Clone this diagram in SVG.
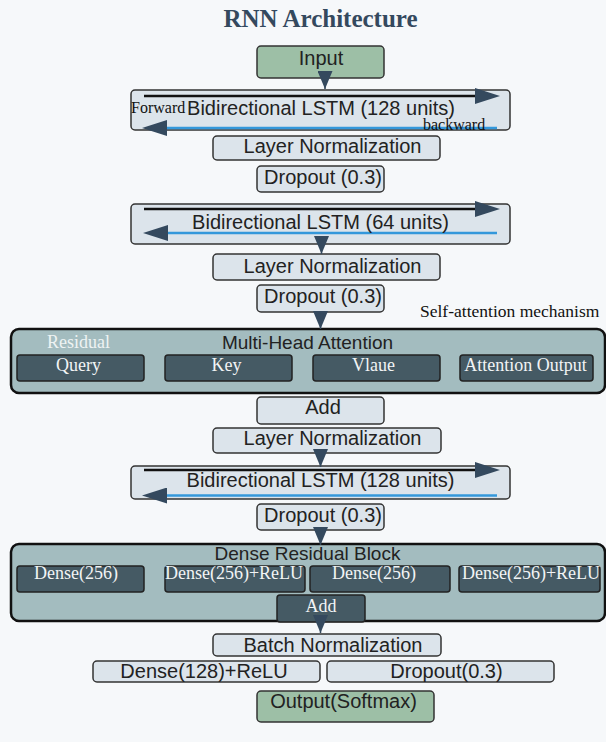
<svg xmlns="http://www.w3.org/2000/svg" width="606" height="742" viewBox="0 0 606 742">
  <style>
    .bg { fill: #f6f8fa; }
    .box { fill: #dce4eb; stroke: #333; stroke-width: 1.5; }
    .io { fill: #9dbfa6; stroke: #333; stroke-width: 1.5; }
    .block { fill: #a3bcbf; stroke: #111; stroke-width: 2.5; }
    .sub { fill: #455a64; stroke: #222; stroke-width: 1.5; }
    .lbl { font-family: "Liberation Sans", Arial, sans-serif; font-size: 20px; fill: #222; text-anchor: middle; }
    .blbl { font-family: "Liberation Sans", Arial, sans-serif; font-size: 19px; fill: #222; text-anchor: middle; }
    .slbl { font-family: "Liberation Serif", "Times New Roman", serif; font-size: 18px; fill: #f2f4f5; text-anchor: middle; }
    .note { font-family: "Liberation Serif", "Times New Roman", serif; font-size: 16px; fill: #111; }
    .fwd { stroke: #111; stroke-width: 2.5; fill: none; }
    .bwd { stroke: #3498db; stroke-width: 2.5; fill: none; }
    .flow { stroke: #34495e; stroke-width: 1.5; fill: none; }
  </style>
  <defs>
    <marker id="dir" markerUnits="userSpaceOnUse" markerWidth="25" markerHeight="16" refX="1" refY="8" orient="auto">
      <path d="M0,0 L25,8 L0,16 z" fill="#34495e"/>
    </marker>
    <marker id="arrow" markerUnits="userSpaceOnUse" markerWidth="18" markerHeight="15" refX="18" refY="7.5" orient="auto">
      <path d="M0,0 L18,7.5 L0,15 z" fill="#34495e"/>
    </marker>
  </defs>

  <rect class="bg" x="0" y="0" width="606" height="742"/>

  <text x="320.5" y="27" font-family="'Liberation Serif', 'Times New Roman', serif" font-size="25" font-weight="bold" fill="#34495e" text-anchor="middle">RNN Architecture</text>

  <g id="input">
    <rect class="io" x="257" y="46" width="127" height="32" rx="4"/>
    <text class="lbl" x="321" y="65">Input</text>
  </g>

  <g id="bilstm1">
    <rect class="box" x="131" y="90" width="379" height="40" rx="4"/>
    <line class="fwd" x1="144" y1="96" x2="476" y2="96" marker-end="url(#dir)"/>
    <line class="bwd" x1="497" y1="128" x2="166" y2="128" marker-end="url(#dir)"/>
    <text class="lbl" x="321" y="115">Bidirectional LSTM (128 units)</text>
    <text class="note" x="131" y="113">Forward</text>
    <text class="note" x="423" y="130">backward</text>
  </g>

  <g id="layernorm1">
    <rect class="box" x="213" y="136" width="227" height="24" rx="4"/>
    <text class="lbl" x="332.5" y="153">Layer Normalization</text>
  </g>

  <g id="dropout1">
    <rect class="box" x="257" y="166" width="127" height="26" rx="4"/>
    <text class="lbl" x="323" y="183.5">Dropout (0.3)</text>
  </g>

  <g id="bilstm2">
    <rect class="box" x="131" y="204" width="379" height="40" rx="4"/>
    <line class="fwd" x1="144" y1="209" x2="476" y2="209" marker-end="url(#dir)"/>
    <line class="bwd" x1="497" y1="233" x2="167" y2="233" marker-end="url(#dir)"/>
    <text class="lbl" x="320.5" y="229">Bidirectional LSTM (64 units)</text>
  </g>

  <g id="layernorm2">
    <rect class="box" x="213" y="254" width="227" height="26" rx="4"/>
    <text class="lbl" x="332.5" y="272.5">Layer Normalization</text>
  </g>

  <g id="dropout2">
    <rect class="box" x="257" y="285" width="127" height="27" rx="4"/>
    <text class="lbl" x="323" y="302.5">Dropout (0.3)</text>
  </g>

  <text x="420" y="317" font-family="'Liberation Serif', 'Times New Roman', serif" font-size="17.5" fill="#111">Self-attention mechanism</text>

  <g id="attention">
    <rect class="block" x="11" y="329" width="594" height="64" rx="8"/>
    <text class="blbl" x="307.5" y="349">Multi-Head Attention</text>
    <text class="slbl" x="78.5" y="348" style="fill:#eef3f3">Residual</text>
    <g id="query">
      <rect class="sub" x="17" y="355" width="127" height="26" rx="3"/>
      <text class="slbl" x="78.5" y="370.5">Query</text>
    </g>
    <g id="key">
      <rect class="sub" x="165" y="355" width="127" height="26" rx="3"/>
      <text class="slbl" x="226.5" y="370.5">Key</text>
    </g>
    <g id="value">
      <rect class="sub" x="313" y="355" width="127" height="26" rx="3"/>
      <text class="slbl" x="373.5" y="370.5">Vlaue</text>
    </g>
    <g id="attention-output">
      <rect class="sub" x="460" y="355" width="133" height="26" rx="3"/>
      <text class="slbl" x="525.5" y="370.5">Attention Output</text>
    </g>
  </g>

  <g id="add1">
    <rect class="box" x="257" y="397" width="127" height="27" rx="4"/>
    <text class="lbl" x="323" y="414">Add</text>
  </g>

  <g id="layernorm3">
    <rect class="box" x="213" y="428" width="228" height="25" rx="4"/>
    <text class="lbl" x="332.5" y="445">Layer Normalization</text>
  </g>

  <g id="bilstm3">
    <rect class="box" x="131" y="466" width="379" height="33" rx="4"/>
    <line class="fwd" x1="144" y1="470" x2="476" y2="470" marker-end="url(#dir)"/>
    <line class="bwd" x1="497" y1="495.5" x2="166" y2="495.5" marker-end="url(#dir)"/>
    <text class="lbl" x="320.5" y="487">Bidirectional LSTM (128 units)</text>
  </g>

  <g id="dropout3">
    <rect class="box" x="257" y="504" width="127" height="26" rx="4"/>
    <text class="lbl" x="323" y="521.5">Dropout (0.3)</text>
  </g>

  <g id="dense-block">
    <rect class="block" x="11" y="544" width="594" height="77" rx="8"/>
    <text class="blbl" x="307.5" y="560">Dense Residual Block</text>
    <g id="dense-a">
      <rect class="sub" x="17" y="566" width="127" height="26" rx="3"/>
      <text class="slbl" x="76" y="579">Dense(256)</text>
    </g>
    <g id="dense-b">
      <rect class="sub" x="165" y="566" width="140" height="26" rx="3"/>
      <text class="slbl" x="234" y="579">Dense(256)+ReLU</text>
    </g>
    <g id="dense-c">
      <rect class="sub" x="310" y="566" width="140" height="26" rx="3"/>
      <text class="slbl" x="374" y="579">Dense(256)</text>
    </g>
    <g id="dense-d">
      <rect class="sub" x="459" y="566" width="141" height="26" rx="3"/>
      <text class="slbl" x="531" y="579">Dense(256)+ReLU</text>
    </g>
    <g id="add2">
      <rect class="sub" x="277" y="595" width="88" height="27" rx="3"/>
      <text class="slbl" x="321" y="612">Add</text>
    </g>
  </g>

  <g id="batchnorm">
    <rect class="box" x="213" y="634" width="228" height="22" rx="4"/>
    <text class="lbl" x="333" y="651.5">Batch Normalization</text>
  </g>

  <g id="dense128">
    <rect class="box" x="93" y="661" width="227" height="21" rx="4"/>
    <text class="lbl" x="204" y="678">Dense(128)+ReLU</text>
  </g>

  <g id="dropout4">
    <rect class="box" x="327" y="661" width="227" height="21" rx="4"/>
    <text class="lbl" x="446.5" y="678">Dropout(0.3)</text>
  </g>

  <g id="output">
    <rect class="io" x="257" y="691" width="177" height="31" rx="4"/>
    <text class="lbl" x="343.5" y="708">Output(Softmax)</text>
  </g>

  <!-- connectors between stages -->
  <g id="connectors">
    <line class="flow" x1="325" y1="71" x2="325" y2="89" marker-end="url(#arrow)"/>
    <line class="flow" x1="321.5" y1="236" x2="321.5" y2="254" marker-end="url(#arrow)"/>
    <line class="flow" x1="320.5" y1="311" x2="320.5" y2="329" marker-end="url(#arrow)"/>
    <line class="flow" x1="320.5" y1="449" x2="320.5" y2="467" marker-end="url(#arrow)"/>
    <line class="flow" x1="320.5" y1="527" x2="320.5" y2="545" marker-end="url(#arrow)"/>
    <line class="flow" x1="320.5" y1="615" x2="320.5" y2="633" marker-end="url(#arrow)"/>
  </g>
</svg>
